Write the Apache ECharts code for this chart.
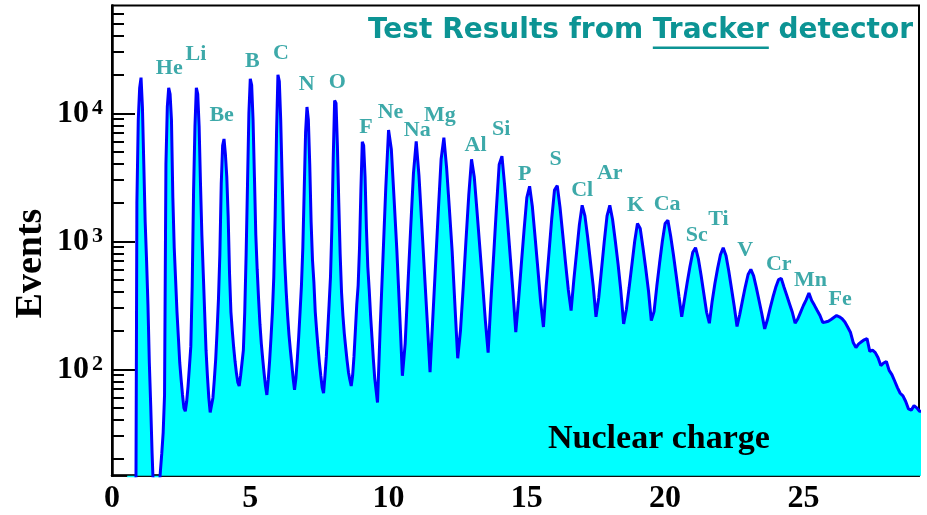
<!DOCTYPE html>
<html>
<head>
<meta charset="utf-8">
<script src="https://cdn.jsdelivr.net/npm/echarts@6/dist/echarts.min.js"></script>
<style>
  html, body { margin: 0; padding: 0; background: #ffffff; }
  #chart { width: 927px; height: 515px; }
</style>
</head>
<body>
<div id="chart"></div>
<script>
// Charge histogram of the Tracker test data.
// Fine bins (width 0.05) cover Z 0.5 - 9.5, bin centres start at 0.55.
const fineStart = 0.55;
const fineStep = 0.05;
const fineEvents = [
  1, 1, 1, 1, 1, 1, 1, 2000, 8900, 15800, 19000, 11200, 4000, 1410, 710, 320, 112, 52, 22, 11,
  6, 5, 7, 11, 16, 22, 32, 63, 4000, 11200, 15800, 14100, 8900, 2200, 890, 500, 280, 178, 112, 83,
  63, 50, 47, 56, 74, 105, 151, 450, 2500, 7900, 15800, 14100, 7900, 2800, 1120, 560, 280, 141, 89, 60,
  46, 45, 60, 83, 120, 200, 355, 790, 2800, 5600, 6300, 4800, 3200, 1580, 560, 280, 200, 148, 115, 93,
  79, 74, 89, 112, 141, 280, 790, 2800, 10000, 18600, 16600, 8900, 3200, 1120, 600, 355, 224, 158, 120, 93,
  74, 63, 83, 117, 178, 280, 525, 1580, 7100, 20000, 17800, 8900, 3200, 1260, 660, 400, 263, 186, 141, 110,
  85, 69, 85, 120, 178, 280, 450, 890, 2500, 7100, 11200, 8900, 4000, 1410, 710, 480, 280, 200, 148, 112,
  89, 72, 65, 89, 126, 200, 320, 525, 1260, 4500, 12600, 12000, 5600, 2000, 790, 400, 263, 190, 148, 117,
  95, 83, 74, 89, 126, 200, 320, 450, 890, 2500, 6000, 5600, 3200, 1260, 630, 420, 263, 178, 120, 85
];
// Coarse bins (width 0.1) cover Z 9.5 - 29.5, bin centres start at 9.6.
const coarseStart = 9.6;
const coarseStep = 0.1;
const coarseEvents = [
  55, 219, 760, 2630, 7400, 5250, 2140, 850, 282, 89,
  158, 457, 1270, 3390, 6030, 3240, 1360, 562, 234, 95,
  251, 661, 1740, 4370, 6460, 3720, 1780, 832, 316, 122,
  200, 437, 1020, 2290, 4370, 3160, 1700, 891, 468, 240,
  135, 339, 776, 1820, 3980, 4620, 2690, 1450, 759, 398,
  195, 347, 661, 1230, 2190, 2690, 1860, 1070, 603, 335,
  214, 447, 813, 1500, 2510, 2720, 1840, 1120, 676, 417,
  288, 501, 822, 1350, 1910, 1580, 1070, 692, 447, 257,
  363, 603, 1000, 1580, 1910, 1480, 1000, 661, 407, 226,
  295, 437, 661, 1000, 1380, 1260, 891, 610, 407, 240,
  282, 447, 676, 1000, 1380, 1460, 1100, 785, 543, 372,
  257, 351, 479, 638, 822, 891, 733, 543, 389, 279,
  229, 339, 468, 617, 785, 891, 776, 589, 427, 309,
  216, 269, 347, 443, 550, 603, 537, 433, 342, 269,
  207, 245, 302, 367, 437, 501, 513, 437, 377, 324,
  279, 229, 248, 280, 315, 349, 394, 345, 316, 288,
  263, 232, 234, 237, 245, 254, 263, 257, 248, 234,
  214, 195, 162, 148, 158, 164, 170, 174, 138, 141,
  135, 123, 107, 112, 115, 98, 91, 81, 72, 65,
  62, 56, 49, 48, 52, 50, 47, 47, 47, 47
];

// Element peaks that carry a name tag.
const elements = ['He', 'Li', 'Be', 'B', 'C', 'N', 'O', 'F', 'Ne', 'Na', 'Mg', 'Al', 'Si',
  'P', 'S', 'Cl', 'Ar', 'K', 'Ca', 'Sc', 'Ti', 'V', 'Cr', 'Mn', 'Fe'];
const elementCharge = [2, 3, 4, 5, 6, 7, 8, 9, 10, 11, 12, 13, 14,
  15, 16, 17, 18, 19, 20, 21, 22, 23, 24, 25, 26];

// Axis tick values.
const chargeMajorTicks = [0, 5, 10, 15, 20, 25];
const eventMajorTicks = [100, 1000, 10000];

// Axis ranges.
const chargeRange = [0, 29.18];
const eventRange = [14.75, 69500];

// ---- styling ----
const TEAL = '#0c9494';
const SERIF = '"Liberation Serif", "Times New Roman", serif';
// pixel offset of each name tag from the top of its peak
const tagOffsets = [
  [2, -20], [1, -34], [-1, -24], [2, -17], [3, -21], [1, -23], [4, -18], [5, -14],
  [2, -18], [1, -11], [-4, -22], [4, -14], [2, -27], [-2, -12], [1, -26], [0, -15],
  [0, -32], [-2, -18], [2, -16], [4, -12], [-2, -28], [-3, -19], [3, -14], [7, -13], [9, -16]
];

// ---- build histogram points ----
const points = [];
fineEvents.forEach((v, i) => points.push([+(fineStart + i * fineStep).toFixed(2), v]));
coarseEvents.forEach((v, i) => points.push([+(coarseStart + i * coarseStep).toFixed(2), v]));

function peakAt(z) {
  let best = 0;
  points.forEach(p => { if (Math.abs(p[0] - z) <= 0.3 && p[1] > best) best = p[1]; });
  return best;
}

const chargeMinorTicks = [];
for (let z = 1; z <= 29; z++) if (z % 5 !== 0) chargeMinorTicks.push(z);
const eventMinorTicks = [];
for (let d = 10; d <= 10000; d *= 10) {
  for (let m = 2; m <= 9; m++) {
    const v = m * d;
    if (v > eventRange[0] && v < eventRange[1]) eventMinorTicks.push(v);
  }
}

const tagData = elements.map((name, i) => ({
  name: name,
  value: [elementCharge[i], peakAt(elementCharge[i])],
  label: { offset: tagOffsets[i] }
}));

// title layout: underline sits beneath the word "Tracker"
const titleFont = 'bold 28px "DejaVu Sans"';
const titlePre = 'Test Results from ';
const titleKey = 'Tracker';
const titlePost = ' detector';
const measureCtx = document.createElement('canvas').getContext('2d');
measureCtx.font = titleFont;
const wPre = measureCtx.measureText(titlePre).width;
const wKey = measureCtx.measureText(titleKey).width;
const wPost = measureCtx.measureText(titlePost).width;
const titleRight = 913;
const titleLeft = titleRight - (wPre + wKey + wPost);

const chart = echarts.init(document.getElementById('chart'), null, { renderer: 'canvas' });

const axisLineStyle = { color: '#000', width: 2.5 };
const tickLineStyle = { color: '#000', width: 2 };

chart.setOption({
  animation: false,
  backgroundColor: '#ffffff',
  grid: {
    left: 112, right: 8, top: 5.5, bottom: 39.3,
    show: true, borderColor: '#000', borderWidth: 2, backgroundColor: 'transparent'
  },
  xAxis: [
    {
      type: 'value', min: chargeRange[0], max: chargeRange[1],
      axisLine: { show: true, onZero: false, lineStyle: axisLineStyle },
      axisTick: { show: true, inside: true, length: 15, lineStyle: tickLineStyle, customValues: chargeMajorTicks },
      axisLabel: {
        show: true, customValues: chargeMajorTicks, margin: 7,
        fontSize: 32, fontWeight: 'bold', fontFamily: SERIF, color: '#000'
      },
      splitLine: { show: false }
    },
    {
      type: 'value', min: chargeRange[0], max: chargeRange[1], position: 'bottom',
      axisLine: { show: false, onZero: false },
      axisTick: { show: true, inside: true, length: 7, lineStyle: tickLineStyle, customValues: chargeMinorTicks },
      axisLabel: { show: false },
      splitLine: { show: false }
    }
  ],
  yAxis: [
    {
      type: 'log', logBase: 10, min: eventRange[0], max: eventRange[1],
      axisLine: { show: true, onZero: false, lineStyle: axisLineStyle },
      axisTick: { show: true, inside: true, length: 23, lineStyle: tickLineStyle, customValues: eventMajorTicks },
      axisLabel: {
        show: true, customValues: eventMajorTicks, margin: 9,
        formatter: v => '{b|10}{s|' + Math.round(Math.log10(v)) + '}',
        rich: {
          b: { fontSize: 32, fontWeight: 'bold', fontFamily: SERIF, color: '#000' },
          s: { fontSize: 22, fontWeight: 'bold', fontFamily: SERIF, color: '#000',
               verticalAlign: 'top', lineHeight: 16, padding: [0, 0, 0, 3] }
        }
      },
      splitLine: { show: false }
    },
    {
      type: 'log', logBase: 10, min: eventRange[0], max: eventRange[1], position: 'left',
      axisLine: { show: false, onZero: false },
      axisTick: { show: true, inside: true, length: 12, lineStyle: tickLineStyle, customValues: eventMinorTicks },
      axisLabel: { show: false },
      splitLine: { show: false }
    }
  ],
  series: [
    {
      type: 'line',
      xAxisIndex: 0, yAxisIndex: 0,
      data: points,
      symbol: 'none',
      clip: true,
      lineStyle: { color: '#0000ff', width: 3 },
      areaStyle: { color: '#00ffff', opacity: 1, origin: 'start' },
      z: 2
    },
    {
      type: 'scatter',
      xAxisIndex: 0, yAxisIndex: 0,
      data: tagData,
      symbolSize: 0,
      silent: true,
      clip: false,
      label: {
        show: true, position: 'inside', formatter: '{b}',
        color: TEAL, fontSize: 22, fontWeight: 'bold', fontFamily: SERIF
      },
      z: 5
    }
  ],
  graphic: [
    {
      type: 'text', x: titleLeft, y: 31, z: 100,
      style: { text: titlePre + titleKey + titlePost, font: titleFont, fill: TEAL,
               align: 'left', verticalAlign: 'middle' }
    },
    {
      type: 'rect', z: 100,
      shape: { x: titleLeft + wPre, y: 46.5, width: wKey, height: 2.5 },
      style: { fill: TEAL }
    },
    {
      type: 'text', x: 659, y: 439, z: 100,
      style: { text: 'Nuclear charge', font: 'bold 34px ' + SERIF, fill: '#000',
               align: 'center', verticalAlign: 'middle' }
    },
    {
      type: 'text', x: 31.5, y: 263.5, rotation: Math.PI / 2, z: 100,
      style: { text: 'Events', font: 'bold 38px ' + SERIF, fill: '#000',
               align: 'center', verticalAlign: 'middle' }
    }
  ]
});
</script>
</body>
</html>
